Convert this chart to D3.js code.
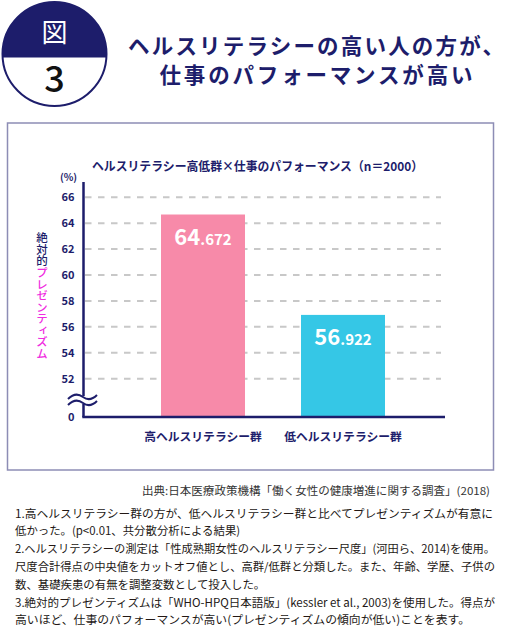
<!DOCTYPE html>
<html>
<head>
<meta charset="utf-8">
<script src="https://cdn.jsdelivr.net/npm/d3@7"></script>
<style>
  body { margin: 0; background: #fff; }
  text { font-family: "Noto Sans CJK JP", "Noto Sans", sans-serif; }
</style>
</head>
<body>
<div id="my_dataviz"></div>
<script>
// chart data
var groups = ["高ヘルスリテラシー群", "低ヘルスリテラシー群"]
var values = [64.672, 56.922]
var yTicks = [0, 52, 54, 56, 58, 60, 62, 64, 66]
var gridTicks = [52, 54, 56, 58, 60, 62, 64, 66]
var barColors = ["#f78aa9", "#35c7e6"]
var titleLines = ["ヘルスリテラシーの高い人の方が、", "仕事のパフォーマンスが高い"]
var chartTitle = "ヘルスリテラシー高低群×仕事のパフォーマンス（n＝2000）"
var yTitleA = "絶対的"
var yTitleB = "プレゼンティズム"
var source = "出典:日本医療政策機構「働く女性の健康増進に関する調査」(2018)"
var notes = [
  "1.高ヘルスリテラシー群の方が、低ヘルスリテラシー群と比べてプレゼンティズムが有意に",
  "低かった。(p<0.01、共分散分析による結果)",
  "2.ヘルスリテラシーの測定は「性成熟期女性のヘルスリテラシー尺度」(河田ら、2014)を使用。",
  "尺度合計得点の中央値をカットオフ値とし、高群/低群と分類した。また、年齢、学歴、子供の",
  "数、基礎疾患の有無を調整変数として投入した。",
  "3.絶対的プレゼンティズムは「WHO-HPQ日本語版」(kessler et al., 2003)を使用した。得点が",
  "高いほど、仕事のパフォーマンスが高い(プレゼンティズムの傾向が低い)ことを表す。"
]
var noteWidths = [478, null, 480, 480, null, 480, 455]

const width = 505
const height = 632
const navy = "#1d1d6b"

var svg = d3.select("#my_dataviz")
  .append("svg")
    .attr("width", width)
    .attr("height", height)

// figure badge (circle, top half navy)
var cx = 54.5, cy = 54, r = 52
svg.append("clipPath").attr("id", "topHalf")
  .append("rect").attr("x", 0).attr("y", 0).attr("width", 120).attr("height", 57.5)
svg.append("circle")
  .attr("cx", cx).attr("cy", cy).attr("r", r)
  .attr("fill", navy)
  .attr("clip-path", "url(#topHalf)")
svg.append("circle")
  .attr("cx", cx).attr("cy", cy).attr("r", r)
  .attr("fill", "none").attr("stroke", navy).attr("stroke-width", 2)
svg.append("text")
  .attr("x", cx).attr("y", 42)
  .attr("text-anchor", "middle")
  .attr("font-size", 26)
  .attr("fill", "#fff")
  .text("図")
svg.append("text")
  .attr("x", cx).attr("y", 92)
  .attr("text-anchor", "middle")
  .attr("font-size", 36)
  .attr("font-weight", 500)
  .attr("fill", "#111")
  .text("3")

// main title
svg.selectAll(".main-title")
  .data(titleLines)
  .enter().append("text")
    .attr("class", "main-title")
    .attr("x", 316)
    .attr("y", function(d, i) { return 54 + i * 29 })
    .attr("text-anchor", "middle")
    .attr("font-size", 21.5)
    .attr("font-weight", 700)
    .attr("fill", navy)
    .attr("textLength", function(d, i) { return i == 0 ? 376 : 313 })
    .attr("lengthAdjust", "spacing")
    .text(function(d) { return d })

// chart frame
svg.append("rect")
  .attr("x", 7.5).attr("y", 123)
  .attr("width", 486).attr("height", 347)
  .attr("fill", "none")
  .attr("stroke", "#8d8db5")
  .attr("stroke-width", 1.5)

svg.append("text")
  .attr("x", 92).attr("y", 171)
  .attr("font-size", 12.5)
  .attr("font-weight", 700)
  .attr("fill", navy)
  .attr("textLength", 331)
  .attr("lengthAdjust", "spacingAndGlyphs")
  .text(chartTitle)

// scales: the y axis is broken between 0 and 52
var baseY = 417
var y = d3.scaleLinear()
  .domain([0, 50.5, 66])
  .range([baseY, 398.1, 197.3])

var x = d3.scaleBand()
  .domain(groups)
  .range([133, 413])
  .paddingInner(0.4)
  .paddingOuter(0.2)

// grid lines
svg.append("g")
  .selectAll("line")
  .data(gridTicks)
  .enter().append("line")
    .attr("x1", 85).attr("x2", 441)
    .attr("y1", function(d) { return y(d) })
    .attr("y2", function(d) { return y(d) })
    .attr("stroke", "#c8c8c8")
    .attr("stroke-width", 2)
    .attr("stroke-dasharray", "6.5,6.5")

// bars
svg.append("g")
  .selectAll("rect")
  .data(values)
  .enter().append("rect")
    .attr("x", function(d, i) { return x(groups[i]) })
    .attr("width", x.bandwidth())
    .attr("y", function(d) { return y(d) })
    .attr("height", function(d) { return baseY - y(d) })
    .attr("fill", function(d, i) { return barColors[i] })

// value labels, big integer + small decimals
var vl = svg.append("g")
  .selectAll("text")
  .data(values)
  .enter().append("text")
    .attr("x", function(d, i) { return x(groups[i]) + x.bandwidth() / 2 })
    .attr("y", function(d) { return y(d) + 30 })
    .attr("text-anchor", "middle")
    .attr("fill", "#fff")
    .attr("font-weight", 700)
vl.append("tspan")
  .attr("font-size", 22)
  .text(function(d) { return String(d).split(".")[0] })
vl.append("tspan")
  .attr("font-size", 15)
  .text(function(d) { return "." + String(d).split(".")[1] })

// y axis labels
var yAxis = svg.append("g")
  .attr("transform", "translate(83.5,0)")
  .call(d3.axisLeft(y).tickValues(yTicks).tickSize(0).tickPadding(9))
yAxis.select(".domain").remove()
yAxis.selectAll("text")
  .attr("font-family", "'Noto Sans CJK JP', sans-serif")
  .attr("font-size", 11)
  .attr("font-weight", 700)
  .attr("fill", navy)

// y axis line with break
svg.append("line")
  .attr("x1", 83.5).attr("x2", 83.5)
  .attr("y1", 182).attr("y2", 396)
  .attr("stroke", navy).attr("stroke-width", 2.5)
svg.append("line")
  .attr("x1", 83.5).attr("x2", 83.5)
  .attr("y1", 404).attr("y2", baseY)
  .attr("stroke", navy).attr("stroke-width", 2.5)
;[397, 403].forEach(function(wy) {
  svg.append("path")
    .attr("d", "M68," + (wy + 2) + " C74," + (wy - 4) + " 79," + (wy - 3) + " 83," + wy +
               " S92," + (wy + 3) + " 97," + (wy - 2))
    .attr("fill", "none")
    .attr("stroke", navy)
    .attr("stroke-width", 2)
})

// x axis line
svg.append("line")
  .attr("x1", 82.3).attr("x2", 445)
  .attr("y1", baseY).attr("y2", baseY)
  .attr("stroke", navy).attr("stroke-width", 2.5)

svg.append("text")
  .attr("x", 68.5).attr("y", 181)
  .attr("text-anchor", "middle")
  .attr("font-size", 10)
  .attr("font-weight", 700)
  .attr("fill", navy)
  .text("(%)")

// category labels
svg.append("g")
  .selectAll("text")
  .data(groups)
  .enter().append("text")
    .attr("x", function(d) { return x(d) + x.bandwidth() / 2 })
    .attr("y", 441)
    .attr("text-anchor", "middle")
    .attr("font-size", 11.8)
    .attr("font-weight", 700)
    .attr("fill", navy)
    .text(function(d) { return d })

// vertical y title
var yt = svg.append("text")
  .attr("x", 42).attr("y", 232)
  .attr("font-size", 11.5)
  .attr("font-weight", 500)
  .style("writing-mode", "vertical-rl")
yt.append("tspan").attr("fill", navy).text(yTitleA)
yt.append("tspan").attr("fill", "#f02be0").text(yTitleB)

// source
svg.append("text")
  .attr("x", 490).attr("y", 495)
  .attr("text-anchor", "end")
  .attr("font-size", 11)
  .attr("fill", "#333")
  .attr("textLength", 348)
  .attr("lengthAdjust", "spacingAndGlyphs")
  .text(source)

// notes
svg.append("g")
  .selectAll("text")
  .data(notes)
  .enter().append("text")
    .attr("x", 15)
    .attr("y", function(d, i) { return 517.5 + i * 17.8 })
    .attr("font-size", 11.4)
    .attr("fill", "#231815")
    .each(function(d, i) {
      if (noteWidths[i]) {
        d3.select(this).attr("textLength", noteWidths[i]).attr("lengthAdjust", "spacingAndGlyphs")
      }
    })
    .text(function(d) { return d })
</script>
</body>
</html>
